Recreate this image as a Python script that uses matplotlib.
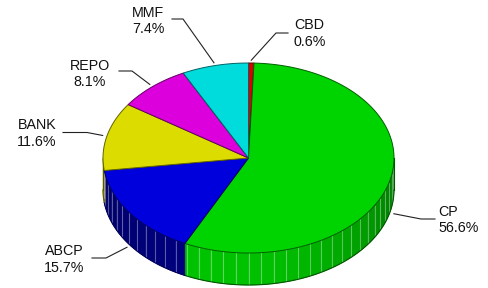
import numpy as np
import matplotlib
matplotlib.use("Agg")
import matplotlib.pyplot as plt
from matplotlib.patches import Polygon
from matplotlib.colors import to_rgb

# ---- data ----
labels = ["CBD", "CP", "ABCP", "BANK", "REPO", "MMF"]
values = [0.6, 56.6, 15.7, 11.6, 8.1, 7.4]
colors = ["#dc0000", "#00d400", "#0000dc", "#dcdc00", "#dc00dc", "#00dcdc"]

# ---- layout ----
W, H = 488, 288
cx, cy, rx, ry, depth = 248.5, 158.0, 145.5, 95.0, 32.0
side_scale = [1.0, 1.0, 0.62, 1.0, 1.0, 1.0]
# label anchor (x, y, ha) and leader elbow/end points
label_pos = {
    "CBD": (294, 33.5, "left", (276, 33), (288, 33)),
    "CP": (438, 220, "left", (421, 219), (435, 219)),
    "ABCP": (64, 259.5, "center", (106, 258), (92, 258)),
    "BANK": (37, 133.5, "center", (87, 132.5), (63, 132.5)),
    "REPO": (90, 74, "center", (132, 71), (119, 71)),
    "MMF": (148, 21, "center", (183, 19), (172, 19)),
}

fig = plt.figure(figsize=(W / 100, H / 100), dpi=100)
ax = fig.add_axes([0, 0, 1, 1])
ax.set_xlim(0, W)
ax.set_ylim(H, 0)
ax.axis("off")

frac = np.array(values) / np.sum(values)
cum = np.concatenate([[0.0], np.cumsum(frac)])


def pt(t, k=1.0):
    r = np.radians(t)
    return cx + k * rx * np.cos(r), cy - k * ry * np.sin(r)


def shade(c, f):
    c = np.array(to_rgb(c))
    return tuple(np.clip(c * f, 0, 1))


def side_factor(t):
    u = t % 360
    return 0.62 + 0.3 * np.cos(np.radians(u - 255))


# ---- side (front, lower half) ----
for i, c in enumerate(colors):
    t0 = 90 - cum[i] * 360
    t1 = 90 - cum[i + 1] * 360
    a, b = max(t1, -180), min(t0, 0)
    if a >= b:
        continue
    bounds = [a] + [v for v in np.arange(np.ceil(a / 5) * 5, b, 5) if a < v < b] + [b]
    for ta, tb in zip(bounds[:-1], bounds[1:]):
        col = shade(c, side_factor((ta + tb) / 2) * side_scale[i])
        ts = np.linspace(ta, tb, 4)
        top = [pt(t) for t in ts]
        bot = [(x, y + depth) for x, y in top[::-1]]
        ax.add_patch(Polygon(top + bot, closed=True, facecolor=col,
                             edgecolor=col, lw=0.4, zorder=2))
    for v in bounds[1:-1]:
        x, y = pt(v)
        ax.plot([x, x], [y, y + depth], color=(1, 1, 1, 0.35), lw=0.8, zorder=3)
    ts = np.linspace(a, b, 60)
    xs, ys = zip(*[pt(t) for t in ts])
    ax.plot(xs, np.array(ys) + depth, color=shade(c, 0.4), lw=0.8, zorder=4)
    if a == -180 or b == 0:
        for v in ([a] if a == -180 else []) + ([b] if b == 0 else []):
            x, y = pt(v)
            ax.plot([x, x], [y, y + depth], color=shade(c, 0.4), lw=0.8, zorder=4)

# ---- top face ----
for i, c in enumerate(colors):
    t0 = 90 - cum[i] * 360
    t1 = 90 - cum[i + 1] * 360
    n = max(3, int(abs(t0 - t1) * 2))
    arc = [pt(t) for t in np.linspace(t0, t1, n)]
    ax.add_patch(Polygon([(cx, cy)] + arc, closed=True, facecolor=c,
                         edgecolor=shade(c, 0.45), lw=0.7, zorder=5))

# ---- labels and leaders ----
for i, lab in enumerate(labels):
    tm = 90 - (cum[i] + cum[i + 1]) / 2 * 360
    sx, sy = pt(tm, 1.03)
    if np.sin(np.radians(tm)) < 0:
        sy += depth
    tx, ty, ha, elbow, end = label_pos[lab]
    ax.plot([sx, elbow[0], end[0]], [sy, elbow[1], end[1]],
            color="#222222", lw=0.8, zorder=6)
    ax.text(tx, ty, f"{lab}\n{values[i]:.1f}%", ha=ha, va="center",
            multialignment=ha, fontsize=10.3, family="Liberation Sans",
            color="#111111", linespacing=1.2, zorder=7)

fig.savefig("out.png", dpi=100)
